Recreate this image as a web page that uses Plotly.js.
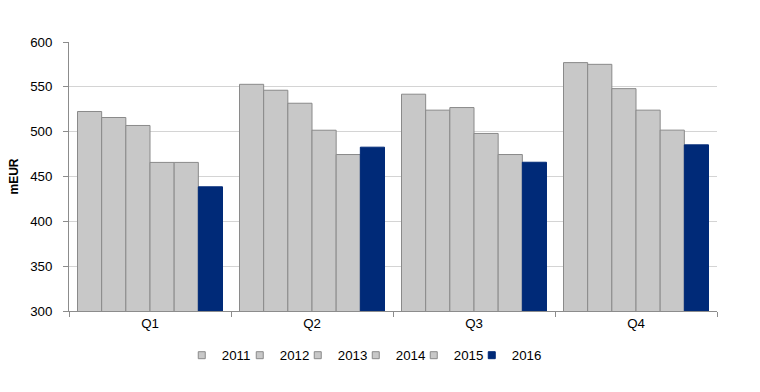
<!DOCTYPE html>
<html><head><meta charset="utf-8">
<script src="https://cdn.plot.ly/plotly-3.0.1.min.js"></script>
<style>html,body{margin:0;padding:0;background:#fff}#chart{width:760px;height:392px}</style>
</head><body><div id="chart"></div>
<script>
const categories = ["Q1", "Q2", "Q3", "Q4"];
const years = ["2011", "2012", "2013", "2014", "2015", "2016"];
const v2011 = [522.5, 552.8, 541.8, 577.0];
const v2012 = [515.8, 546.2, 524.0, 575.1];
const v2013 = [506.9, 531.7, 526.9, 548.0];
const v2014 = [465.7, 501.6, 498.0, 524.0];
const v2015 = [465.7, 474.5, 474.5, 501.7];
const v2016 = [438.5, 482.7, 465.9, 485.3];
const yTicks = [300, 350, 400, 450, 500, 550, 600];

const series = [v2011, v2012, v2013, v2014, v2015, v2016];
const grey = "#C8C8C8", blue = "#002A78";
const colorOf = i => (i === 5 ? blue : grey);
const lineOf = i => (i === 5 ? blue : "#8a8a8a");

// bars (legend drawn by small-square proxy entries below)
const data = series.map((vals, i) => ({
  type: "bar",
  name: years[i],
  legendgroup: years[i],
  showlegend: false,
  x: categories,
  y: vals,
  base: 0,
  marker: {color: colorOf(i), line: {color: lineOf(i), width: 1}},
  hoverinfo: "none"
}));
// legend proxies: small square markers, no data drawn
years.forEach((yr, i) => data.push({
  type: "scatter", mode: "markers",
  name: yr, legendgroup: yr, showlegend: true,
  x: [null], y: [null],
  marker: {symbol: "square", size: 7, color: colorOf(i), line: {color: lineOf(i), width: 1}},
  hoverinfo: "none"
}));
// spacer entry so the last label is not clipped
data.push({
  type: "scatter", mode: "markers", name: " ", showlegend: true,
  x: [null], y: [null], marker: {size: 1, color: "rgba(0,0,0,0)"}, hoverinfo: "none"
});

const layout = {
  width: 760, height: 392,
  margin: {l: 69, r: 43, t: 42, b: 81},
  paper_bgcolor: "#fff", plot_bgcolor: "#fff",
  font: {family: "Liberation Sans, Arial, sans-serif", size: 13.3, color: "#000"},
  barmode: "group",
  bargap: 0.105,
  bargroupgap: 0,
  showlegend: true,
  legend: {
    orientation: "h", x: 0.174, xanchor: "left", y: -0.108, yanchor: "top",
    font: {size: 13.3}, itemwidth: 30, entrywidth: 13, traceorder: "normal",
    bgcolor: "rgba(0,0,0,0)"
  },
  xaxis: {
    type: "category",
    showline: true, linecolor: "#8c8c8c", linewidth: 1,
    ticks: "outside", tickson: "boundaries", ticklen: 5, tickcolor: "#8c8c8c",
    showgrid: false, zeroline: false,
    tickfont: {size: 13.3}
  },
  yaxis: {
    range: [300, 600],
    tickvals: yTicks,
    showline: true, linecolor: "#8c8c8c", linewidth: 1,
    ticks: "outside", ticklen: 5, tickcolor: "#8c8c8c",
    ticklabelstandoff: 8,
    showgrid: true, gridcolor: "#d4d4d4", gridwidth: 1,
    zeroline: false,
    tickfont: {size: 13.3},
    title: {text: "mEUR", font: {size: 12, weight: "bold"}, standoff: 8}
  }
};

Plotly.newPlot("chart", data, layout, {staticPlot: true, displayModeBar: false});
</script>
</body></html>
